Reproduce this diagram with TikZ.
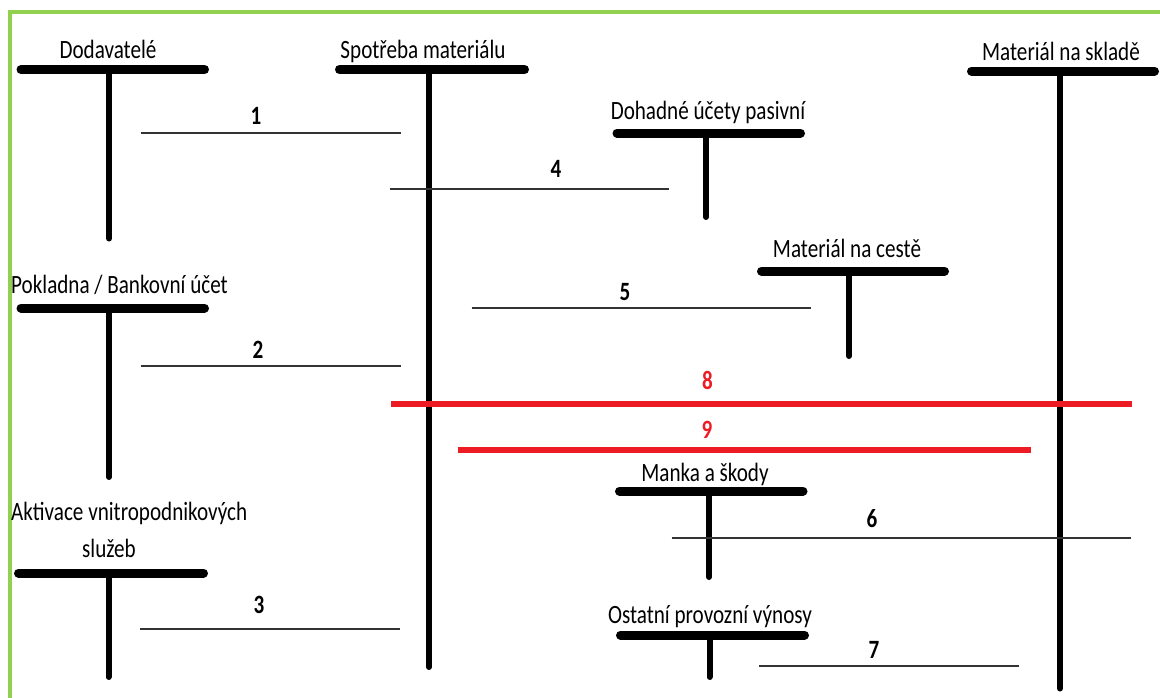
\documentclass[tikz,border=0pt]{standalone}
\usepackage{fontspec}
\setmainfont{Carlito}[FakeStretch=0.8]
\definecolor{postred}{HTML}{ED1C24}
\definecolor{framegreen}{HTML}{92D050}
\tikzset{tbar/.style={line width=9pt,line cap=round}}
\tikzset{tstem/.style={line width=6pt,line cap=round}}
\tikzset{post/.style={line width=2pt,draw=black!80}}
\tikzset{redpost/.style={line width=6pt,draw=postred}}
\tikzset{acct/.style={anchor=base,inner sep=0pt,font=\fontsize{26.4}{30}\selectfont}}
\tikzset{num/.style={anchor=base,inner sep=0pt,font=\fontsize{26.4}{30}\selectfont\bfseries}}

\begin{document}
\begin{tikzpicture}[x=1pt,y=-1pt]
\useasboundingbox (0,0) rectangle (1160,697);
\draw[framegreen,line width=4pt] (10,699) -- (10,12) -- (1162,12);
% accounts
\node[acct] (dod) at (108,58) {Dodavatelé};
\draw[tbar] (21,69.5) -- (204.5,69.5);
\draw[tstem] (109,69.5) -- (109,238.5);
\node[acct] (spot) at (423,58) {Spotřeba materiálu};
\draw[tbar] (339.5,69.5) -- (524.5,69.5);
\draw[tstem] (429,69.5) -- (429,667);
\node[acct] (skl) at (1061,60) {Materiál na skladě};
\draw[tbar] (971.5,71) -- (1154.5,71);
\draw[tstem] (1060,71) -- (1060,688.5);
\node[acct] (doh) at (708,119) {Dohadné účety pasivní};
\draw[tbar] (617,133) -- (800.5,133);
\draw[tstem] (706,133) -- (706,217);
\node[acct] (ces) at (847,257) {Materiál na cestě};
\draw[tbar] (761.5,271) -- (944.5,271);
\draw[tstem] (849,271) -- (849,356);
\node[acct,anchor=base west] (pok) at (11,293) {Pokladna / Bankovní účet};
\draw[tbar] (21,308) -- (204.5,308);
\draw[tstem] (109,308) -- (109,477);
\node[acct,anchor=base west] (akt) at (11,520) {Aktivace vnitropodnikových};
\node[acct] (akt2) at (109,557) {služeb};
\draw[tbar] (18.5,573) -- (203.5,573);
\draw[tstem] (108.5,573) -- (108.5,677);
\node[acct] (man) at (705,481) {Manka a škody};
\draw[tbar] (619.5,491) -- (803,491);
\draw[tstem] (709,491) -- (709,577);
\node[acct] (ost) at (710,623) {Ostatní provozní výnosy};
\draw[tbar] (620.5,635) -- (804.5,635);
\draw[tstem] (709.5,635) -- (709.5,677);
% postings
\coordinate (a1) at (140.5,133.3); \coordinate (b1) at (400.5,133.3);
\coordinate (a2) at (140.5,365.7); \coordinate (b2) at (400.5,365.7);
\coordinate (a3) at (140,628.7);   \coordinate (b3) at (399.5,628.7);
\coordinate (a4) at (389.5,189);   \coordinate (b4) at (669,189);
\coordinate (a5) at (471.5,308);   \coordinate (b5) at (811,308);
\coordinate (a6) at (671.5,538.3); \coordinate (b6) at (1131,538.3);
\coordinate (a7) at (759,665.7);   \coordinate (b7) at (1019,665.7);
\coordinate (a8) at (391,404.3);   \coordinate (b8) at (1132,404.3);
\coordinate (a9) at (457.5,449.5); \coordinate (b9) at (1031,449.5);
\draw[post] (a1) -- (b1);
\draw[post] (a2) -- (b2);
\draw[post] (a3) -- (b3);
\draw[post] (a4) -- (b4);
\draw[post] (a5) -- (b5);
\draw[post] (a6) -- (b6);
\draw[post] (a7) -- (b7);
\draw[redpost] (a8) -- (b8);
\draw[redpost] (a9) -- (b9);
\node[num] (n1) at (256,124) {1};
\node[num] (n2) at (258,358) {2};
\node[num] (n3) at (259,613) {3};
\node[num] (n4) at (556,177) {4};
\node[num] (n5) at (625,300) {5};
\node[num] (n6) at (872,527) {6};
\node[num] (n7) at (874,658) {7};
\node[num,text=postred] (n8) at (707.5,389) {8};
\node[num,text=postred] (n9) at (707,438) {9};
\end{tikzpicture}
\end{document}
